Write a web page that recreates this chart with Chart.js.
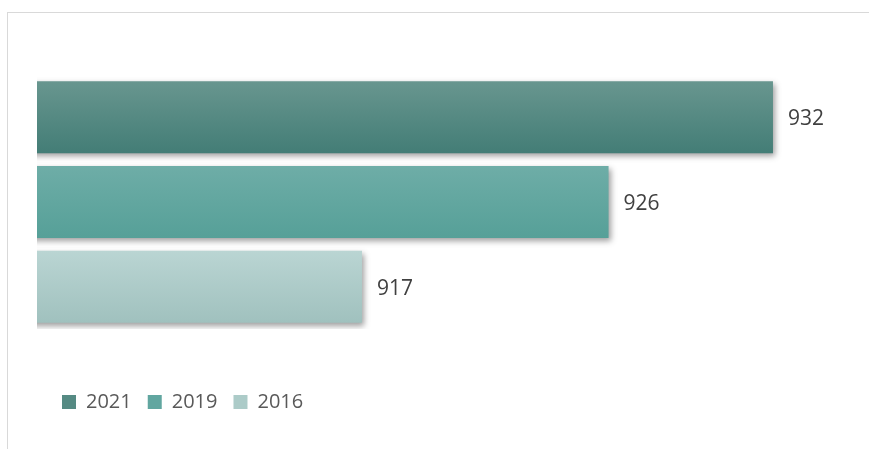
<!DOCTYPE html>
<html>
<head>
<meta charset="utf-8">
<script src="https://cdn.jsdelivr.net/npm/chart.js@4/dist/chart.umd.min.js"></script>
<style>
  html, body { margin: 0; padding: 0; background: #ffffff; }
  #wrap { position: relative; width: 869px; height: 449px; overflow: hidden; }
  #frame { position: absolute; left: 7px; top: 12px; right: -2px; bottom: -2px;
           border-left: 1px solid #d9d9d9; border-top: 1px solid #d9d9d9; }
  canvas { position: absolute; left: 0; top: 0; }
</style>
</head>
<body>
<div id="wrap">
  <div id="frame"></div>
  <canvas id="c" width="869" height="449"></canvas>
</div>
<script>
// ---- data ----
const categories = [''];
const seriesNames = ['2021', '2019', '2016'];
const values2021 = [932];
const values2019 = [926];
const values2016 = [917];
const axisMin = 905.14;
const axisMax = 935.14;

// ---- styles ----
const colorsTop    = ['#68968f', '#6eada7', '#bad5d3'];
const colorsBottom = ['#437d76', '#56a098', '#a0c1be'];
const colorsLegend = ['#558a83', '#61a6a0', '#accbc8'];
const CAT = 1.0, BAR = 0.85;

function gradientFor(i) {
  return function (c) {
    const ch = c.chart, ca = ch.chartArea;
    if (!ca) return colorsLegend[i];
    const slot = (ca.bottom - ca.top) * CAT / 3;
    const top = ca.top + (ca.bottom - ca.top) * (1 - CAT) / 2 + slot * i + slot * (1 - BAR) / 2;
    const bot = top + slot * BAR;
    const g = ch.ctx.createLinearGradient(0, top, 0, bot);
    g.addColorStop(0, colorsTop[i]);
    g.addColorStop(1, colorsBottom[i]);
    return g;
  };
}

const seriesValues = [values2021, values2019, values2016];

const shadowPlugin = {
  id: 'shadow',
  beforeDatasetDraw(chart) {
    const ctx = chart.ctx;
    ctx.save();
    ctx.shadowColor = 'rgba(0,0,0,0.38)';
    ctx.shadowBlur = 6;
    ctx.shadowOffsetX = 2;
    ctx.shadowOffsetY = 3;
  },
  afterDatasetDraw(chart) {
    chart.ctx.restore();
  }
};

const labelPlugin = {
  id: 'valueLabels',
  afterDatasetsDraw(chart) {
    const ctx = chart.ctx;
    ctx.save();
    ctx.font = '21px "Open Sans"';
    ctx.fillStyle = '#404040';
    ctx.textBaseline = 'middle';
    ctx.textAlign = 'left';
    chart.data.datasets.forEach((ds, di) => {
      const meta = chart.getDatasetMeta(di);
      meta.data.forEach((el, j) => {
        ctx.fillText(String(ds.data[j]), el.x + 15, el.y + 2);
      });
    });
    ctx.restore();
  }
};

const legendPlace = {
  id: 'legendPlace',
  beforeDraw(chart) {
    const lg = chart.legend;
    if (lg) {
      const h = lg.height;
      lg.left = 46;
      lg.top = 376;
      lg.bottom = 376 + h;
      lg.right = 869;
    }
  }
};

new Chart(document.getElementById('c'), {
  type: 'bar',
  data: {
    labels: categories,
    datasets: seriesNames.map((name, i) => ({
      label: name,
      data: seriesValues[i],
      backgroundColor: gradientFor(i),
      borderWidth: 0,
      categoryPercentage: CAT,
      barPercentage: BAR
    }))
  },
  options: {
    indexAxis: 'y',
    responsive: false,
    animation: false,
    devicePixelRatio: 1,
    layout: { padding: { left: 37, right: 10, top: 75, bottom: 74 } },
    scales: {
      x: { display: false, min: axisMin, max: axisMax },
      y: { display: false }
    },
    plugins: {
      tooltip: { enabled: false },
      legend: {
        position: 'bottom',
        align: 'start',
        labels: {
          boxWidth: 14,
          boxHeight: 14,
          padding: 16,
          color: '#595959',
          font: { family: '"Open Sans"', size: 20 },
          generateLabels(chart) {
            return chart.data.datasets.map((ds, i) => ({
              text: ds.label,
              fillStyle: colorsLegend[i],
              strokeStyle: colorsLegend[i],
              lineWidth: 0,
              hidden: false,
              datasetIndex: i,
              fontColor: '#595959'
            }));
          }
        }
      }
    }
  },
  plugins: [legendPlace, shadowPlugin, labelPlugin]
});
</script>
</body>
</html>
